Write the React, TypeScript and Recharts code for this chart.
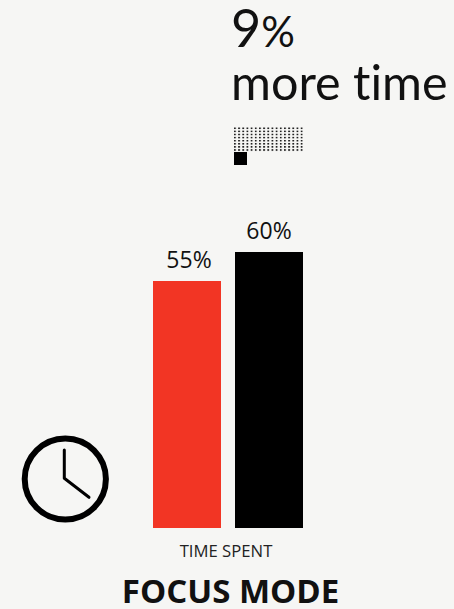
import { Bar, BarChart, Cell, LabelList, XAxis, YAxis } from 'recharts';

const categories = ['Other', 'Focus'];
const timeSpent = [55, 60];
const barColors = ['#f23524', '#000000'];

const data = categories.map((name, i) => ({ name, value: timeSpent[i] }));

const headlineValue = '9';
const headlineUnit = '%';
const headlineText = 'more time';
const axisTitle = 'TIME SPENT';
const chartTitle = 'FOCUS MODE';

const font = '"Open Sans", sans-serif';
const headlineFont = 'Lato, sans-serif';

// the first label sits a little right of its bar's centre
const labelShift = [2, 0];

function ValueLabel(props: any) {
  const { x, y, width, value, index } = props;
  return (
    <text x={x + width / 2 + labelShift[index]} y={y - 13} textAnchor="middle" fill="#111" fontSize={23} fontFamily={font}>
      {`${value}%`}
    </text>
  );
}

export default function App() {
  return (
    <div style={{ position: 'absolute', left: 0, top: 0, width: 454, height: 609, background: '#f6f6f4', overflow: 'hidden' }}>
      <BarChart
        width={454}
        height={609}
        data={data}
        barCategoryGap={7}
        margin={{ top: 70, right: 144, bottom: 81, left: 146 }}
      >
        <defs>
          <pattern id="dots" x="234" y="127.5" width="4.17" height="3.1" patternUnits="userSpaceOnUse">
            <rect width="1.8" height="1.6" fill="#222" />
          </pattern>
        </defs>
        <XAxis dataKey="name" hide />
        <YAxis hide domain={[12.41, 91.37]} />
        <Bar dataKey="value" isAnimationActive={false}>
          {data.map((d, i) => (
            <Cell key={d.name} fill={barColors[i]} />
          ))}
          <LabelList dataKey="value" content={ValueLabel} />
        </Bar>

        {/* headline */}
        <text x={231} y={47} fontSize={52} fontFamily={headlineFont} fill="#111">
          {headlineValue}
          <tspan fontSize={42}>{headlineUnit}</tspan>
        </text>
        <text x={231} y={100} fontSize={48.5} fontFamily={headlineFont} fill="#111" style={{ fontVariantLigatures: 'none' }}>{headlineText}</text>

        {/* dotted block with the solid square below it */}
        <rect x={234} y={127} width={69} height={25} fill="url(#dots)" />
        <rect x={234} y={152} width={13} height={13} fill="#000" />

        {/* clock */}
        <circle cx={65.3} cy={479} r={40.6} fill="none" stroke="#000" strokeWidth={6} />
        <polyline points="64.3,450 64.3,478.3 89,497.3" fill="none" stroke="#000" strokeWidth={3} strokeLinecap="round" strokeLinejoin="round" />

        <text x={226} y={557} textAnchor="middle" fontSize={16.7} fontFamily={font} fill="#222">{axisTitle}</text>
        <text x={230.5} y={603} textAnchor="middle" fontSize={33} fontWeight={700} fontFamily={font} fill="#111">{chartTitle}</text>
      </BarChart>
    </div>
  );
}
